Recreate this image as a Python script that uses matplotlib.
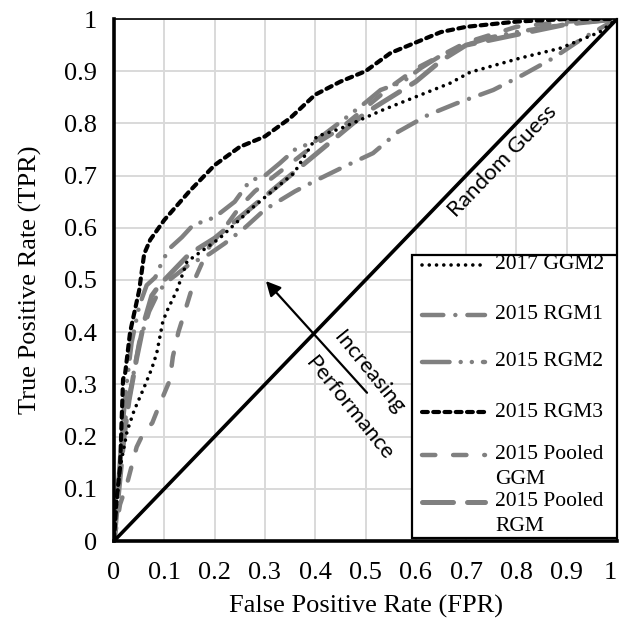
import numpy as np
import matplotlib
matplotlib.use("Agg")
import matplotlib.pyplot as plt
from matplotlib.lines import Line2D
from matplotlib.patches import Rectangle

plt.rcParams['font.family'] = ['Liberation Serif', 'DejaVu Serif']

# Curvas ROC (FPR, TPR) de cada modelo
ggm2_2017_fpr = [0, 0.005, 0.012, 0.026, 0.04, 0.058, 0.075, 0.085, 0.097, 0.105, 0.125, 0.145, 0.21,
                 0.277, 0.358, 0.403, 0.45, 0.535, 0.608, 0.668, 0.708, 0.807, 0.887, 0.966, 1]
ggm2_2017_tpr = [0, 0.07, 0.14, 0.21, 0.25, 0.29, 0.33, 0.36, 0.42, 0.44, 0.48, 0.535, 0.58,
                 0.64, 0.705, 0.775, 0.79, 0.826, 0.854, 0.877, 0.898, 0.925, 0.944, 0.975, 1]

rgm1_fpr = [0, 0.01, 0.02, 0.035, 0.05, 0.07, 0.09, 0.11, 0.15, 0.19, 0.22, 0.26, 0.3, 0.36, 0.4,
            0.455, 0.515, 0.565, 0.624, 0.68, 0.754, 0.813, 0.873, 0.932, 0.972, 1]
rgm1_tpr = [0, 0.12, 0.22, 0.30, 0.38, 0.44, 0.48, 0.50, 0.53, 0.55, 0.57, 0.60, 0.635, 0.67, 0.69,
            0.716, 0.743, 0.784, 0.816, 0.838, 0.864, 0.893, 0.925, 0.963, 0.985, 1]

rgm2_fpr = [0, 0.008, 0.015, 0.025, 0.035, 0.05, 0.065, 0.082, 0.097, 0.111, 0.135, 0.157, 0.2, 0.24,
            0.27, 0.3, 0.33, 0.36, 0.4, 0.46, 0.5, 0.53, 0.575, 0.61, 0.65, 0.7, 0.75, 0.8, 0.9, 1]
rgm2_tpr = [0, 0.1, 0.2, 0.3, 0.38, 0.45, 0.49, 0.505, 0.538, 0.561, 0.582, 0.605, 0.62, 0.65,
            0.69, 0.70, 0.724, 0.75, 0.766, 0.81, 0.84, 0.864, 0.88, 0.906, 0.93, 0.95, 0.965, 0.975, 0.99, 1]

rgm3_fpr = [0, 0.005, 0.012, 0.018, 0.022, 0.032, 0.05, 0.06, 0.072, 0.1, 0.15, 0.2, 0.25, 0.3, 0.35,
            0.4, 0.45, 0.5, 0.55, 0.6, 0.65, 0.7, 0.8, 0.9, 1]
rgm3_tpr = [0, 0.08, 0.14, 0.31, 0.32, 0.40, 0.48, 0.55, 0.577, 0.615, 0.67, 0.72, 0.755, 0.775, 0.81,
            0.855, 0.88, 0.90, 0.935, 0.955, 0.975, 0.985, 0.995, 1, 1]

pooled_ggm_fpr = [0, 0.012, 0.026, 0.045, 0.06, 0.076, 0.09, 0.111, 0.117, 0.128, 0.141, 0.16, 0.19,
                  0.22, 0.25, 0.28, 0.32, 0.36, 0.4, 0.45, 0.5, 0.55, 0.6, 0.65, 0.7, 0.75, 0.8, 0.9, 1]
pooled_ggm_tpr = [0, 0.07, 0.11, 0.18, 0.21, 0.226, 0.26, 0.308, 0.353, 0.40, 0.44, 0.50, 0.565,
                  0.60, 0.64, 0.67, 0.70, 0.73, 0.76, 0.79, 0.83, 0.87, 0.905, 0.93, 0.955, 0.97, 0.985, 0.995, 1]

pooled_rgm_fpr = [0, 0.01, 0.02, 0.03, 0.045, 0.06, 0.075, 0.09, 0.12, 0.15, 0.2, 0.25, 0.3, 0.35,
                  0.4, 0.45, 0.5, 0.55, 0.6, 0.65, 0.7, 0.8, 0.9, 1]
pooled_rgm_tpr = [0, 0.1, 0.2, 0.27, 0.35, 0.42, 0.47, 0.49, 0.52, 0.55, 0.58, 0.62, 0.66, 0.70,
                  0.74, 0.78, 0.82, 0.85, 0.88, 0.92, 0.95, 0.97, 0.99, 1]

labels = ['2017 GGM2', '2015 RGM1', '2015 RGM2', '2015 RGM3', '2015 Pooled\nGGM', '2015 Pooled\nRGM']
ticks = np.round(np.arange(0, 1.01, 0.1), 1)
tick_labels = ['0'] + ['%.1f' % t for t in ticks[1:-1]] + ['1']

gris = '#808080'
estilos = [
    dict(color='black', lw=2.6, dashes=(0.01, 2.0)),
    dict(color=gris, lw=3.2, dashes=(4.8, 2.7, 0.01, 2.7)),
    dict(color=gris, lw=3.2, dashes=(6.2, 2.5, 0.01, 2.5, 0.01, 2.5)),
    dict(color='black', lw=3.0, dashes=(1.4, 1.3)),
    dict(color=gris, lw=3.2, dashes=(3.0, 4.0)),
    dict(color=gris, lw=3.6, dashes=(6.2, 2.8)),
]
curvas = [
    (ggm2_2017_fpr, ggm2_2017_tpr),
    (rgm1_fpr, rgm1_tpr),
    (rgm2_fpr, rgm2_tpr),
    (rgm3_fpr, rgm3_tpr),
    (pooled_ggm_fpr, pooled_ggm_tpr),
    (pooled_rgm_fpr, pooled_rgm_tpr),
]

fig = plt.figure(figsize=(6.19, 6.29), dpi=100)
ax = fig.add_axes([114 / 619, 1 - 541 / 629, 503 / 619, 522 / 629])
ax.set_xlim(0, 1)
ax.set_ylim(0, 1)

ax.set_xticks(ticks)
ax.set_yticks(ticks)
ax.set_xticklabels(tick_labels)
ax.set_yticklabels(tick_labels)
ax.get_xticklabels()[-1].set_ha('right')
ax.tick_params(length=0, labelsize=19)
ax.tick_params(axis='x', pad=15)
ax.tick_params(axis='y', pad=12)
ax.grid(True, color='#d9d9d9', lw=1.4)
ax.set_axisbelow(True)

ax.spines['left'].set_linewidth(2.6)
ax.spines['bottom'].set_linewidth(2.6)
ax.spines['top'].set_linewidth(1.2)
ax.spines['right'].set_linewidth(1.6)

ax.set_xlabel('False Positive Rate (FPR)', fontsize=19, labelpad=8)
ax.set_ylabel('True Positive Rate (TPR)', fontsize=19, labelpad=16)

# Orden de dibujo: grises abajo, negras encima
orden = [1, 2, 4, 5, 3, 0]
for i in orden:
    x, y = curvas[i]
    st = estilos[i]
    ax.plot(x, y, color=st['color'], lw=st['lw'], dashes=st['dashes'],
            dash_capstyle='round', solid_capstyle='round', clip_on=True)

# Linea de azar
ax.plot([0, 1], [0, 1], color='black', lw=2.6)

sans = ['Lato', 'DejaVu Sans']
ax.text(0.772, 0.728, 'Random Guess', rotation=46, ha='center', va='center',
        fontsize=16, family=sans, rotation_mode='anchor')

# Flecha de desempeno creciente
ax.annotate('', xy=(0.302, 0.498), xytext=(0.503, 0.284),
            arrowprops=dict(arrowstyle='-|>', color='black', lw=1.6, mutation_scale=22,
                            shrinkA=0, shrinkB=0))
ax.text(0.507, 0.323, 'Increasing', rotation=-51, ha='center', va='center',
        fontsize=16, family=sans, rotation_mode='anchor')
ax.text(0.468, 0.255, 'Performance', rotation=-51, ha='center', va='center',
        fontsize=16, family=sans, rotation_mode='anchor')

# Leyenda dibujada a mano
ax.add_patch(Rectangle((0.592, 0.006), 0.408, 0.542, transform=ax.transAxes,
                       facecolor='white', edgecolor='black', lw=1.6, zorder=5))
y_items = [0.529, 0.433, 0.343, 0.247, 0.165, 0.075]
dy_linea = 25 / 522
for lab, st, yi in zip(labels, estilos, y_items):
    ax.add_line(Line2D([0.612, 0.738], [yi, yi], transform=ax.transAxes, color=st['color'],
                       lw=st['lw'], dashes=st['dashes'], dash_capstyle='round', zorder=6))
    for k, parte in enumerate(lab.split('\n')):
        ax.text(0.758, yi - k * dy_linea, parte, transform=ax.transAxes, ha='left',
                va='center', fontsize=15.5, zorder=6)

fig.savefig('out.png', dpi=100)
